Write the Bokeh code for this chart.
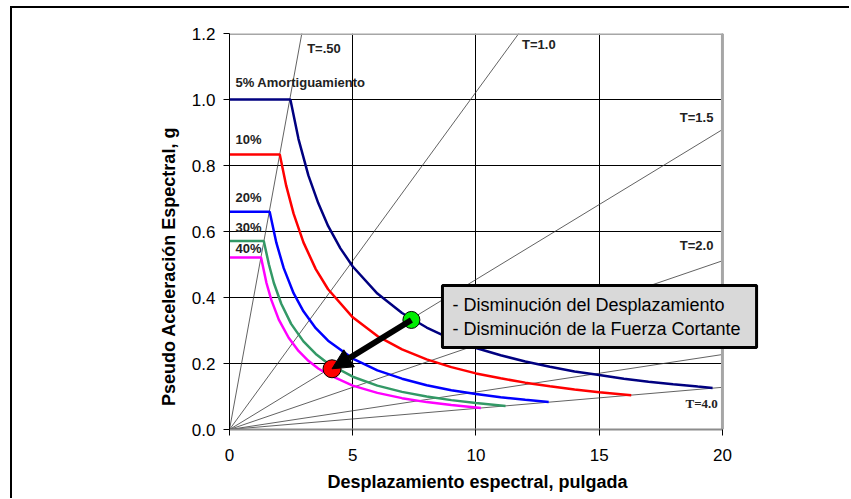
import math
from bokeh.plotting import figure
from bokeh.layouts import column, row
from bokeh.models import (Range1d, Label, Arrow, NormalHead, ColumnDataSource,
                          FixedTicker, NumeralTickFormatter, Spacer)
from bokeh.core.properties import value
from bokeh.embed import file_html
from bokeh.resources import INLINE

# ---------------- data ----------------
sd_05 = [0, 2.47, 2.8, 3.2, 3.6, 4, 4.5, 5, 6, 7, 8, 9, 10, 11, 12, 13, 14, 15, 16, 17, 18, 19, 19.6]
sa_05 = [1.0, 1.0, 0.88, 0.77, 0.686, 0.617, 0.549, 0.494, 0.412, 0.353, 0.309, 0.274, 0.247, 0.225,
         0.206, 0.19, 0.176, 0.165, 0.154, 0.145, 0.137, 0.13, 0.126]
sd_10 = [0, 2.04, 2.3, 2.6, 3, 3.5, 4, 5, 6, 7, 8, 9, 10, 11, 12, 13, 14, 15, 16.3]
sa_10 = [0.833, 0.833, 0.739, 0.654, 0.567, 0.486, 0.425, 0.34, 0.283, 0.243, 0.2125, 0.189, 0.17,
         0.155, 0.142, 0.131, 0.121, 0.113, 0.104]
sd_20 = [0, 1.63, 1.9, 2.2, 2.6, 3, 3.5, 4, 5, 6, 7, 8, 9, 10, 11, 12, 12.95]
sa_20 = [0.66, 0.66, 0.566, 0.489, 0.413, 0.358, 0.307, 0.269, 0.215, 0.179, 0.154, 0.134, 0.119,
         0.1075, 0.098, 0.09, 0.083]
sd_30 = [0, 1.39, 1.6, 1.8, 2.1, 2.5, 3, 3.5, 4, 5, 6, 7, 8, 9, 10, 11.2]
sa_30 = [0.571, 0.571, 0.5, 0.444, 0.381, 0.32, 0.267, 0.229, 0.2, 0.16, 0.133, 0.114, 0.1, 0.089,
         0.08, 0.0715]
sd_40 = [0, 1.28, 1.5, 1.7, 2, 2.4, 2.8, 3.2, 3.6, 4, 5, 6, 7, 8, 9, 10.2]
sa_40 = [0.521, 0.521, 0.444, 0.392, 0.333, 0.278, 0.238, 0.208, 0.185, 0.167, 0.133, 0.111, 0.095,
         0.083, 0.074, 0.065]

curve_colors = ["#000080", "#ff0000", "#0000ff", "#339966", "#ff00ff"]

periods = [0.5, 1.0, 1.5, 2.0, 3.0, 4.0]      # seconds
g_in = 386.1                                   # in/s^2

green_pt = (7.38, 0.332)
red_pt = (4.16, 0.184)

label_texts = ["T=.50", "5% Amortiguamiento", "10%", "20%", "30%", "40%", "T=1.0", "T=1.5", "T=2.0"]
label_x = [3.15, 0.24, 0.24, 0.24, 0.24, 0.24, 11.87, 18.27, 18.27]
label_y = [1.154, 1.052, 0.878, 0.702, 0.611, 0.548, 1.167, 0.945, 0.558]

x_ticks = [0, 5, 10, 15, 20]
y_ticks = [0.0, 0.2, 0.4, 0.6, 0.8, 1.0, 1.2]

box_text = "- Disminución del Desplazamiento\n- Disminución de la Fuerza Cortante"
x_title = "Desplazamiento espectral, pulgada"
y_title = "Pseudo Aceleración Espectral, g"

FONT = "Liberation Sans"
NB = "\u00a0"

# ---------------- figure ----------------
# the frame is extended to the right of x=20 so the note box (which overhangs
# the chart in the reference) is not clipped
p = figure(width=837, height=490, output_backend="svg", toolbar_location=None,
           x_range=Range1d(0, 21.95), y_range=Range1d(0, 1.2),
           min_border_left=217, min_border_right=79, min_border_top=25, min_border_bottom=69)
p.background_fill_color = "white"
p.border_fill_color = "white"
p.outline_line_color = None

p.xaxis.ticker = FixedTicker(ticks=x_ticks)
p.yaxis.ticker = FixedTicker(ticks=y_ticks)
p.yaxis.formatter = NumeralTickFormatter(format="0.0")
p.xaxis.bounds = (x_ticks[0], x_ticks[-1])
for ax in (p.xaxis, p.yaxis):
    ax.major_label_text_font = FONT
    ax.major_label_text_font_size = "17px"
    ax.major_label_text_color = "black"
    ax.minor_tick_line_color = None
    ax.major_tick_in = 0
    ax.major_tick_out = 6
    ax.major_tick_line_color = "black"
    ax.axis_label_text_font = FONT
    ax.axis_label_text_font_style = "bold"
    ax.axis_label_text_font_size = "18px"
    ax.axis_label_text_color = "black"
p.xaxis.axis_line_color = "#8c8c8c"
p.xaxis.axis_line_width = 2
p.xaxis.major_label_standoff = 13
p.xaxis.axis_label = x_title + NB * 9
p.xaxis.axis_label_standoff = 8
p.yaxis.axis_line_color = "black"
p.yaxis.major_label_standoff = 8
p.yaxis.axis_label = y_title + NB * 14
p.yaxis.axis_label_standoff = 10

p.xgrid.grid_line_color = "black"
p.xgrid.grid_line_width = 1
p.ygrid.visible = False
# horizontal grid lines only across the chart (0..20)
p.segment(x0=[x_ticks[0]] * (len(y_ticks) - 2), x1=[x_ticks[-1]] * (len(y_ticks) - 2),
          y0=y_ticks[1:-1], y1=y_ticks[1:-1], line_color="black", line_width=1)

# period lines
seg = ColumnDataSource(dict(
    x0=[0] * len(periods), y0=[0] * len(periods),
    x1=[x_ticks[-1]] * len(periods),
    y1=[(2 * math.pi / T) ** 2 / g_in * x_ticks[-1] for T in periods]))
p.segment("x0", "y0", "x1", "y1", source=seg, line_color="#3a3a3a", line_width=0.8)

# chart border (top and right, grey)
p.segment(x0=[x_ticks[0], x_ticks[-1]], y0=[y_ticks[-1], y_ticks[0]],
          x1=[x_ticks[-1], x_ticks[-1]], y1=[y_ticks[-1], y_ticks[-1]],
          line_color="#a6a6a6", line_width=3)

# spectra
for sd, sa, c in zip([sd_05, sd_10, sd_20, sd_30, sd_40],
                     [sa_05, sa_10, sa_20, sa_30, sa_40], curve_colors):
    p.line(sd, sa, line_color=c, line_width=2.5)

# labels
lab = ColumnDataSource(dict(x=label_x, y=label_y, t=label_texts))
p.text("x", "y", text="t", source=lab, text_font=value(FONT), text_font_style="bold",
       text_font_size="13px", text_color="#222222", text_baseline="middle", text_align="left")
p.text(x=[18.5], y=[0.080], text=["T=4.0"], text_font=value("Liberation Serif"),
       text_font_style="bold", text_font_size="13px", text_color="#222222",
       text_baseline="middle", text_align="left")

# points and arrow
p.scatter([red_pt[0]], [red_pt[1]], size=18, fill_color="#ff0000", line_color="black", line_width=1)
p.add_layout(Arrow(end=NormalHead(size=20, fill_color="black", line_color="black"),
                   x_start=green_pt[0], y_start=green_pt[1], x_end=red_pt[0], y_end=red_pt[1],
                   line_width=6, line_color="black"))
p.scatter([green_pt[0]], [green_pt[1]], size=17, fill_color="#00ee00", line_color="black", line_width=1)

# annotation box
p.add_layout(Label(x=8.64, y=0.2485, text=box_text,
                   text_font=FONT, text_font_size="18px", text_color="black",
                   text_align="left", text_baseline="bottom",
                   background_fill_color="#d9d9d9", border_line_color="black", border_line_width=3,
                   padding=(10, 16, 10, 8)))

# outer page frame (black, left and top) built from spacers
frame_top = Spacer(width=839, height=2, styles={"background-color": "black"})
frame_left = Spacer(width=2, height=490, styles={"background-color": "black"})
layout = column(
    Spacer(width=849, height=6),
    row(Spacer(width=10, height=492),
        column(frame_top, row(frame_left, p))),
)

open("out.html", "w").write(file_html(layout, INLINE))
